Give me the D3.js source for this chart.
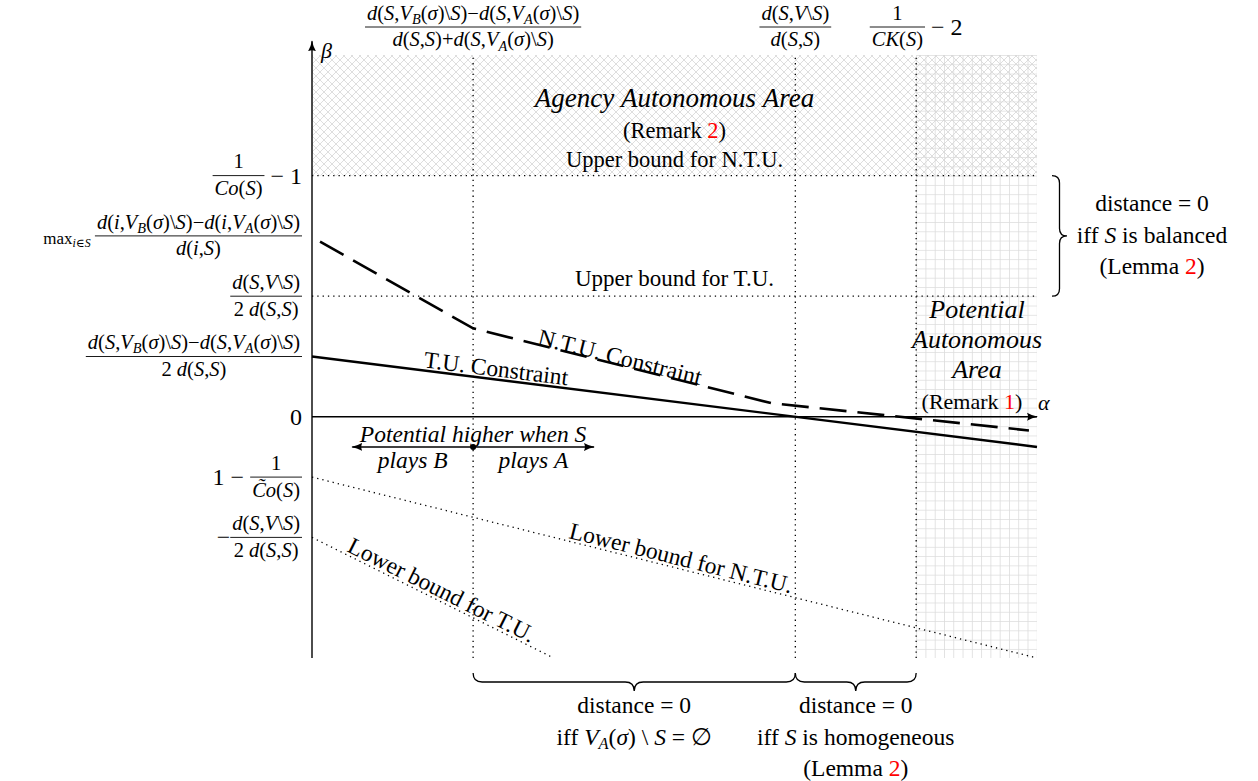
<!DOCTYPE html>
<html>
<head>
<meta charset="utf-8">
<script src="https://cdn.jsdelivr.net/npm/d3@7"></script>
<style>
body { margin: 0; background: #fff; }
svg text { font-family: "Liberation Serif", "DejaVu Serif", serif; fill: #000; white-space: pre; }
</style>
</head>
<body>
<svg id="chart" width="1258" height="781"></svg>
<script>
// plane (α, β) in drawing units
const alphaRange = [0, 9]
const betaRange = [-3, 4.5]
const guideAlphas = [2, 6, 7.5]
const upperBounds = [3, 1.5]
const tuConstraint = [[0, 0.75], [9, -0.375]]
const ntuConstraint = [[0.1, 2.18], [2, 1.1], [5.7, 0.17], [8.9, -0.17]]
const tuLower = [[0, -1.5], [3, -3]]
const ntuLower = [[0, -0.75], [9, -3]]
const agencyArea = [0, 9, 3, 4.5]      // α0, α1, β0, β1
const potentialArea = [7.5, 9, -3, 4.5]
const potentialArrow = [0.5, 2, 3.5]   // left end, dot, right end (α)
const potentialArrowBeta = -0.375

// tick labels ($..$ = math, _{} = subscript, |..| = red)
const betaTicks = [3, 2.25, 1.5, 0.75, 0, -0.75, -1.5]
const betaTickLabels = [
    { num: "1", den: "$Co(S)$", post: " − 1" },
    { op: "max$_{i∈S}$ ", num: "$d(i,V_{B}(σ)\\S)−d(i,V_{A}(σ)\\S)$", den: "$d(i,S)$" },
    { num: "$d(S,V\\S)$", den: "2 $d(S,S)$" },
    { num: "$d(S,V_{B}(σ)\\S)−d(S,V_{A}(σ)\\S)$", den: "2 $d(S,S)$" },
    { pre: "0" },
    { pre: "1 − ", num: "1", den: "$C̃o(S)$" },
    { pre: "−", num: "$d(S,V\\S)$", den: "2 $d(S,S)$" }
]
const alphaTickLabels = [
    { num: "$d(S,V_{B}(σ)\\S)−d(S,V_{A}(σ)\\S)$", den: "$d(S,S)+d(S,V_{A}(σ)\\S)$" },
    { num: "$d(S,V\\S)$", den: "$d(S,S)$" },
    { num: "1", den: "$CK(S)$", post: " − 2" }
]
const lineLabels = ["T.U. Constraint", "N.T.U. Constraint", "Lower bound for N.T.U.", "Lower bound for T.U."]
const agencyText = ["$Agency Autonomous Area$", "(Remark |2|)", "Upper bound for N.T.U."]
const tuUpperText = "Upper bound for T.U."
const potentialText = ["$Potential$", "$Autonomous$", "$Area$", "(Remark |1|)"]
const arrowText = ["$Potential higher when S$", "$plays B$", "$plays A$"]
const balancedText = ["distance = 0", "iff $S$ is balanced", "(Lemma |2|)"]
const emptyText = ["distance = 0", "iff $V_{A}(σ)$ \\ $S$ = ∅"]
const homogText = ["distance = 0", "iff $S$ is homogeneous", "(Lemma |2|)"]

const svg = d3.select("#chart")
const x = d3.scaleLinear().domain(alphaRange).range([312, 1037])
const y = d3.scaleLinear().domain(betaRange).range([658, 55])
const line = d3.line().x(d => x(d[0])).y(d => y(d[1]))

// tiny math typesetter
function rich(sel, str, size) {
    let toks = [], math = false, red = false
    for (let i = 0; i < str.length; i++) {
        let c = str[i]
        if (c == "$") { math = !math; continue }
        if (c == "|") { red = !red; continue }
        if (c == "_" && math) {
            let grp
            if (str[i + 1] == "{") { let j = str.indexOf("}", i); grp = str.slice(i + 2, j); i = j }
            else { grp = str[i + 1]; i++ }
            for (let g of grp) toks.push({ c: g, it: /[A-Za-zσαβ]/.test(g), sub: true, red })
            continue
        }
        if (/[\u0300-\u036f]/.test(c) && toks.length) { toks[toks.length - 1].c += c; continue }
        toks.push({ c, it: math && /[A-Za-zσαβ]/.test(c), sub: false, red })
    }
    let runs = []
    toks.forEach(t => {
        let last = runs[runs.length - 1]
        if (last && last.it == t.it && last.sub == t.sub && last.red == t.red) last.s += t.c
        else runs.push({ s: t.c, it: t.it, sub: t.sub, red: t.red })
    })
    sel.attr("font-size", size)
    let shift = 0
    runs.forEach(r => {
        let want = r.sub ? size * 0.2 : 0
        sel.append("tspan")
            .attr("dy", want - shift)
            .attr("font-size", r.sub ? size * 0.7 : size)
            .attr("font-style", r.it ? "italic" : "normal")
            .attr("fill", r.red ? "#ff0000" : "#000")
            .text(r.s)
        shift = want
    })
    return sel
}

function frac(parent, num, den, size) {
    let g = parent.append("g")
    let n = rich(g.append("text").attr("text-anchor", "middle").attr("y", -size * 0.36), num, size)
    let d = rich(g.append("text").attr("text-anchor", "middle").attr("y", size * 0.95), den, size)
    let w = Math.max(n.node().getComputedTextLength(), d.node().getComputedTextLength()) + 4
    g.append("line").attr("x1", -w / 2).attr("x2", w / 2)
        .attr("stroke", "#000").attr("stroke-width", 0.9)
    return { g, w }
}

// lays out op / pre / fraction / post, origin = left end on the fraction bar
function compose(parent, spec) {
    let g = parent.append("g"), cx = 0
    let word = (s, size, dy) => {
        let t = rich(g.append("text").attr("x", cx).attr("y", dy), s, size)
        cx += t.node().getComputedTextLength()
    }
    if (spec.op) word(spec.op, 17, 8)
    if (spec.pre) word(spec.pre, 24, 8)
    if (spec.num) {
        let f = frac(g, spec.num, spec.den, 20.5)
        f.g.attr("transform", `translate(${cx + f.w / 2},0)`)
        cx += f.w
    }
    if (spec.post) word(spec.post, 24, 8)
    return { g, w: cx }
}

function centered(lines, cx, y0, step, size) {
    lines.forEach((s, i) => rich(svg.append("text")
        .attr("x", cx).attr("y", y0 + i * step)
        .attr("text-anchor", "middle"), s, size))
}

function brace(x1, y1, x2, y2, amp) {
    // brace from p1 to p2, bulging to the right of the direction p1 -> p2
    let dx = x2 - x1, dy = y2 - y1, len = Math.hypot(dx, dy)
    let ux = dx / len, uy = dy / len, nx = -uy, ny = ux
    let p = (t, a) => [x1 + ux * t + nx * a, y1 + uy * t + ny * a].join(",")
    let h = amp / 2, m = len / 2
    return `M${p(0, 0)} Q${p(0, h)} ${p(h, h)} L${p(m - h, h)} Q${p(m, h)} ${p(m, amp)}`
        + ` Q${p(m, h)} ${p(m + h, h)} L${p(len - h, h)} Q${p(len, h)} ${p(len, 0)}`
}

// patterns and markers
let defs = svg.append("defs")
let hatch = defs.append("pattern").attr("id", "crosshatch")
    .attr("patternUnits", "userSpaceOnUse").attr("width", 8).attr("height", 8)
hatch.append("path").attr("d", "M-2,-2 L10,10 M10,-2 L-2,10")
    .attr("stroke", "#d6d6d6").attr("stroke-width", 0.8)
let grid = defs.append("pattern").attr("id", "grid")
    .attr("patternUnits", "userSpaceOnUse").attr("width", 9.28).attr("height", 9.28)
    .attr("x", x(potentialArea[0])).attr("y", y(potentialArea[3]))
grid.append("path").attr("d", "M0,0 H9.28 M0,0 V9.28")
    .attr("stroke", "#dcdcdc").attr("stroke-width", 1.6)
defs.append("marker").attr("id", "tip")
    .attr("viewBox", "0 -5 12 10").attr("refX", 10).attr("refY", 0)
    .attr("markerWidth", 12).attr("markerHeight", 10)
    .attr("markerUnits", "userSpaceOnUse").attr("orient", "auto-start-reverse")
    .append("path").attr("d", "M0,-4 Q5,-1 11,0 Q5,1 0,4 Q2,0 0,-4Z").attr("fill", "#000")

// shaded areas
svg.append("rect")
    .attr("x", x(potentialArea[0])).attr("y", y(potentialArea[3]))
    .attr("width", x(potentialArea[1]) - x(potentialArea[0]))
    .attr("height", y(potentialArea[2]) - y(potentialArea[3]))
    .attr("fill", "url(#grid)")
svg.append("rect")
    .attr("x", x(agencyArea[0])).attr("y", y(agencyArea[3]))
    .attr("width", x(agencyArea[1]) - x(agencyArea[0]))
    .attr("height", y(agencyArea[2]) - y(agencyArea[3]))
    .attr("fill", "url(#crosshatch)")

// dotted guides and bounds
let dotted = sel => sel.attr("fill", "none").attr("stroke", "#000")
    .attr("stroke-width", 1.3).attr("stroke-dasharray", "1.3 4")
guideAlphas.forEach(a => dotted(svg.append("path")
    .attr("d", line([[a, betaRange[0]], [a, betaRange[1]]]))))
upperBounds.forEach(b => dotted(svg.append("path")
    .attr("d", line([[alphaRange[0], b], [alphaRange[1], b]]))))
dotted(svg.append("path").attr("d", line(tuLower)))
dotted(svg.append("path").attr("d", line(ntuLower)))

// constraints
svg.append("path").attr("d", line(tuConstraint))
    .attr("fill", "none").attr("stroke", "#000").attr("stroke-width", 2.4)
svg.append("path").attr("d", line(ntuConstraint))
    .attr("fill", "none").attr("stroke", "#000").attr("stroke-width", 2.6)
    .attr("stroke-dasharray", "27 11")

// axes
svg.append("path").attr("d", line([[0, 0], [alphaRange[1], 0]]))
    .attr("stroke", "#000").attr("stroke-width", 1.4).attr("marker-end", "url(#tip)")
svg.append("path").attr("d", line([[0, betaRange[0]], [0, betaRange[1] + 0.17]]))
    .attr("stroke", "#000").attr("stroke-width", 1.4).attr("marker-end", "url(#tip)")
rich(svg.append("text").attr("x", x(0) + 9).attr("y", y(betaRange[1]) + 3), "$β$", 22)
rich(svg.append("text").attr("x", x(alphaRange[1]) + 1).attr("y", y(0) - 7), "$α$", 22)

// tick labels
betaTicks.forEach((b, i) => {
    let c = compose(svg, betaTickLabels[i])
    c.g.attr("transform", `translate(${302 - c.w},${y(b)})`)
})
guideAlphas.forEach((a, i) => {
    let c = compose(svg, alphaTickLabels[i])
    c.g.attr("transform", `translate(${x(a) - c.w / 2},27)`)
})

// labels along lines
function lineLabel(text, pts, a, off, size) {
    let k = 1
    while (k < pts.length - 1 && pts[k][0] < a) k++
    let p0 = pts[k - 1], p1 = pts[k]
    let t = (a - p0[0]) / (p1[0] - p0[0])
    let b = p0[1] + t * (p1[1] - p0[1])
    let ang = Math.atan2(y(p1[1]) - y(p0[1]), x(p1[0]) - x(p0[0])) * 180 / Math.PI
    rich(svg.append("text")
        .attr("transform", `translate(${x(a)},${y(b)}) rotate(${ang}) translate(0,${-off})`)
        .attr("text-anchor", "middle"), text, size)
}
lineLabel(lineLabels[0], tuConstraint, 2.27, 3, 23.5)
lineLabel(lineLabels[1], ntuConstraint, 3.8, 0, 23.5)
lineLabel(lineLabels[2], ntuLower, 4.55, 3, 23.5)
lineLabel(lineLabels[3], tuLower, 1.55, 3, 23.5)

// area texts
centered(agencyText.slice(0, 1), x(4.5), 107, 0, 27)
centered(agencyText.slice(1), x(4.5), 138, 29, 22.5)
centered([tuUpperText], x(4.5), 286, 0, 23)
centered(potentialText.slice(0, 3), 977, 318, 30, 26)
centered(potentialText.slice(3), 972, 409, 0, 22)

// "potential higher" double arrow
let pb = potentialArrowBeta
svg.append("path").attr("d", line([[potentialArrow[0], pb], [potentialArrow[2], pb]]))
    .attr("stroke", "#000").attr("stroke-width", 1.4)
    .attr("marker-start", "url(#tip)").attr("marker-end", "url(#tip)")
svg.append("circle").attr("cx", x(potentialArrow[1])).attr("cy", y(pb)).attr("r", 3)
centered(arrowText.slice(0, 1), x(potentialArrow[1]), y(pb) - 5, 0, 23.5)
centered(arrowText.slice(1, 2), x((potentialArrow[0] + potentialArrow[1]) / 2), y(pb) + 21, 0, 23.5)
centered(arrowText.slice(2, 3), x((potentialArrow[1] + potentialArrow[2]) / 2), y(pb) + 21, 0, 23.5)

// braces
let braceStyle = sel => sel.attr("fill", "none").attr("stroke", "#000").attr("stroke-width", 1.3)
braceStyle(svg.append("path").attr("d", brace(x(9) + 15, y(1.5), x(9) + 15, y(3), 15)))
braceStyle(svg.append("path").attr("d", brace(x(2), 673, x(6), 673, 18)))
braceStyle(svg.append("path").attr("d", brace(x(6), 673, x(7.5), 673, 18)))
centered(balancedText, 1152, 211, 31.5, 23.5)
centered(emptyText, x(4), 713, 31.5, 23.5)
centered(homogText, x(6.75), 713, 31.5, 23.5)
</script>
</body>
</html>
